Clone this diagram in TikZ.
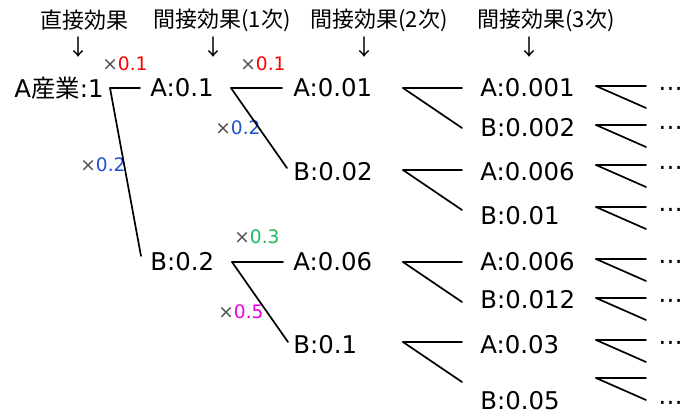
\documentclass[tikz,border=0pt]{standalone}
\usepackage{fontspec}
\setmainfont{DejaVu Sans}
\newfontfamily\jfont{Noto Sans CJK JP}
\usetikzlibrary{calc}
\definecolor{mulred}{RGB}{255,0,0}
\definecolor{mulblue}{RGB}{30,80,210}
\definecolor{mulgreen}{RGB}{30,185,95}
\definecolor{mulpink}{RGB}{230,0,230}
\definecolor{mulgray}{RGB}{80,80,80}
\newcommand{\mulby}[2]{\textcolor{mulgray}{×}\textcolor{#1}{#2}}

\begin{document}
\begin{tikzpicture}
[x=0.5pt,y=-0.5pt,%
  every node/.style={inner sep=0pt,anchor=west},%
  val/.style={font=\fontsize{12.2}{14}\selectfont},%
  mul/.style={font=\fontsize{9.3}{11}\selectfont},%
  head/.style={font=\jfont\fontsize{11}{13}\selectfont},%
  fork/.style={line width=0.85pt,line cap=round}]
\useasboundingbox (0,0) rectangle (691,416);
\node[head] (h0) at (40,20) {直接効果};
\node[head] (h1) at (153,20) {間接効果(1次)};
\node[head] (h2) at (310,20) {間接効果(2次)};
\node[head] (h3) at (477,20) {間接効果(3次)};
\foreach \x/\n in {78/0,213/1,364/2,529/3}
  \node[head,anchor=center] (d\n) at (\x,47) {↓};
\node[val] (A) at (14,88) {A{\jfont 産業}:1};
\node[val] (A1) at (150,88) {A:0.1};
\node[val] (B1) at (150,262) {B:0.2};
\node[val] (AA) at (293,88) {A:0.01};
\node[val] (AB) at (293,172) {B:0.02};
\node[val] (BA) at (293,262) {A:0.06};
\node[val] (BB) at (293,345) {B:0.1};
\foreach \y/\n/\t in {88/AAA/A:0.001,128/AAB/B:0.002,172/ABA/A:0.006,216/ABB/B:0.01,%
  262/BAA/A:0.006,300/BAB/B:0.012,345/BBA/A:0.03,401/BBB/B:0.05}
  \node[val] (\n) at (480,\y) {\t};
\node[mul] (m1) at (102,64) {\mulby{mulred}{0.1}};
\node[mul] (m2) at (80,165) {\mulby{mulblue}{0.2}};
\node[mul] (m3) at (240,64) {\mulby{mulred}{0.1}};
\node[mul] (m4) at (215,128) {\mulby{mulblue}{0.2}};
\node[mul] (m5) at (234,237) {\mulby{mulgreen}{0.3}};
\node[mul] (m6) at (218,312) {\mulby{mulpink}{0.5}};
\coordinate (f0) at (110,88);
\draw[fork] (f0) -- ($(A1.west)+(-10,0)$);
\draw[fork] (f0) -- ($(B1.west)+(-9,-6)$);
\coordinate (fA) at (231,88);
\draw[fork] (fA) -- ($(AA.west)+(-11,0)$);
\draw[fork] (fA) -- ($(AB.west)+(-6,-4)$);
\coordinate (fB) at (232,262);
\draw[fork] (fB) -- ($(BA.west)+(-10,0)$);
\draw[fork] (fB) -- ($(BB.west)+(-5,-3)$);
\foreach \y/\n in {88/AA,170/AB,262/BA,342/BB} {
  \coordinate (g\n) at (403,\y);
  \draw[fork] (g\n) -- ++(59,0);
  \draw[fork] (g\n) -- ++(59,40);
}
\foreach \y/\n in {86/1,125/2,165/3,207/4,259/5,298/6,340/7} {
  \coordinate (k\n) at (596,\y);
  \node[val] (dots\n) at (658,\y+6) {⋯};
  \draw[fork] (k\n) -- ++(50,0);
  \draw[fork] (k\n) -- ++(50,22);
}
\coordinate (k8) at (596,378);
\node[val] (dots8) at (658,406) {⋯};
\draw[fork] (k8) -- ++(50,0);
\draw[fork] (k8) -- ++(50,22);
\end{tikzpicture}
\end{document}
